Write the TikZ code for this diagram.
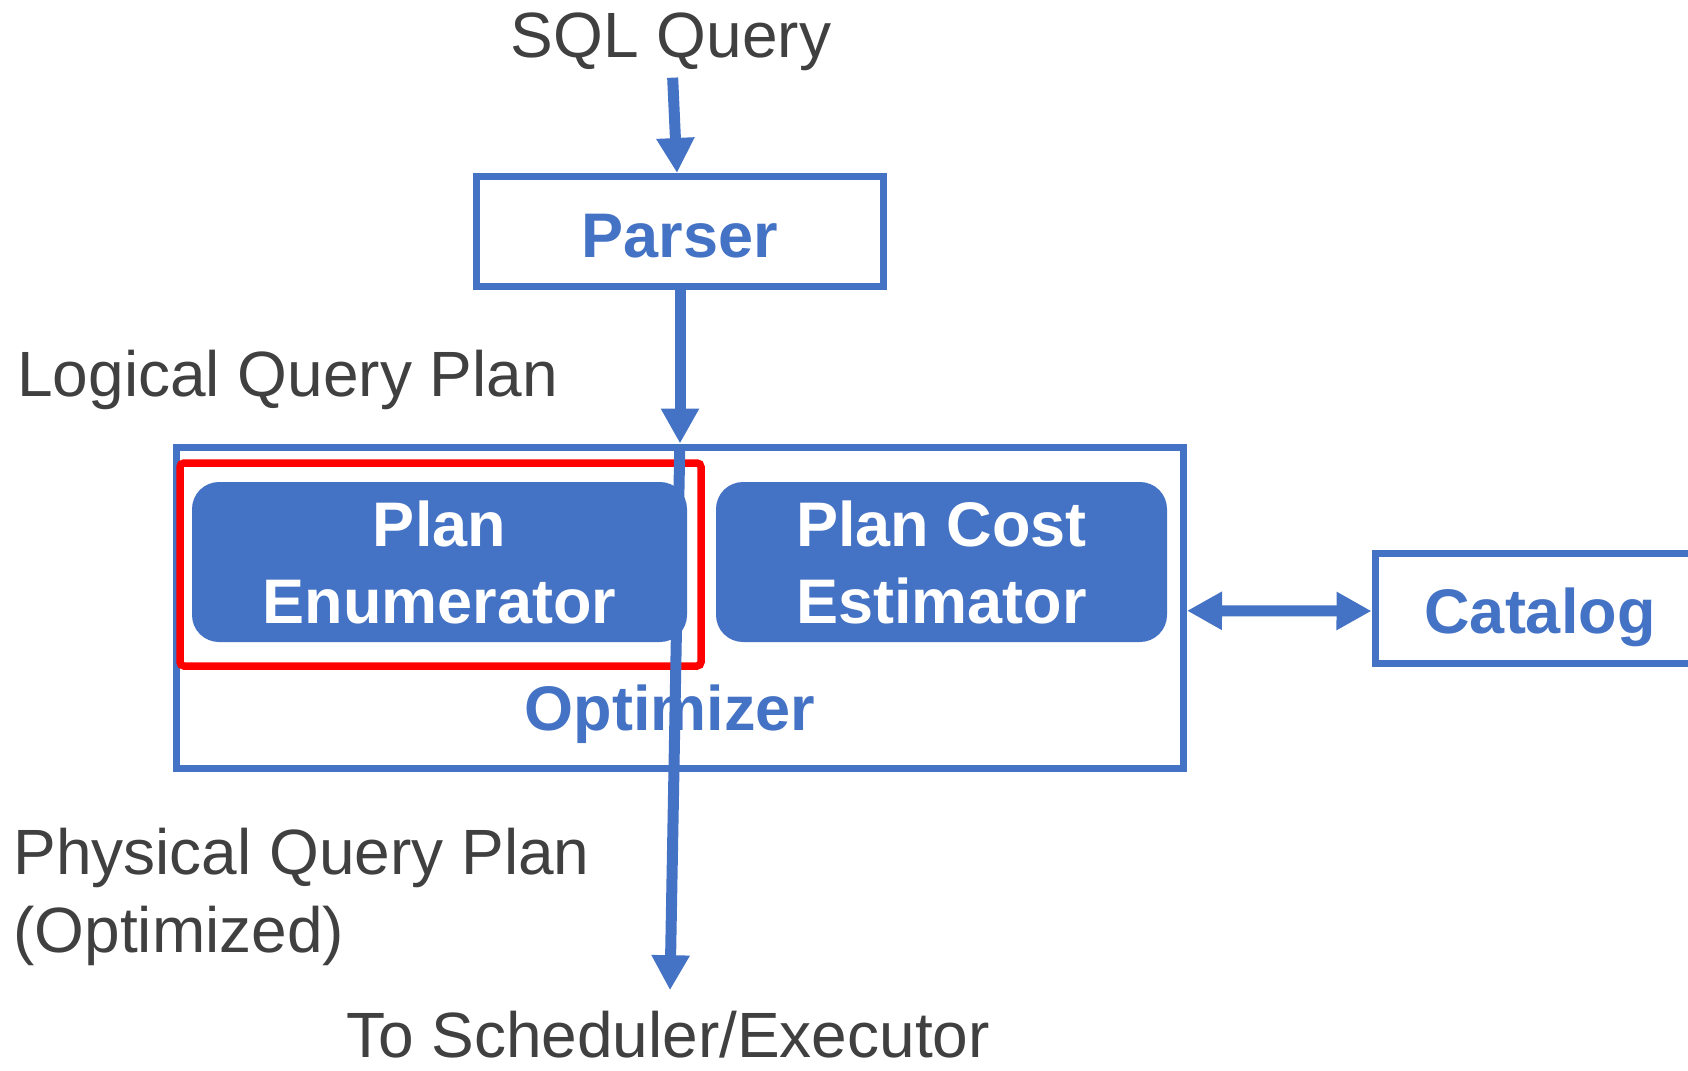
\documentclass[tikz,border=0pt]{standalone}
\usepackage{fontspec}
\setmainfont{Liberation Sans}
\usetikzlibrary{arrows.meta}
\definecolor{acc}{HTML}{4472C4}
\definecolor{ink}{HTML}{404040}
\definecolor{hl}{HTML}{FF0000}
\begin{document}
\begin{tikzpicture}[x=0.5pt,y=-0.5pt,
  >={Triangle[width=18pt,length=17.5pt]},
  plain/.style={text=ink, inner sep=0pt, font=\fontsize{32}{39}\selectfont},
  frame/.style={draw=acc, line width=3.5pt, fill=white, text=acc, inner sep=0pt,
    font=\bfseries\fontsize{31.5}{38.5}\selectfont},
  module/.style={fill=acc, rounded corners=13.5pt, text=white, align=center, inner sep=0pt,
    minimum height=80pt, font=\bfseries\fontsize{31.5}{38.5}\selectfont},
  flow/.style={draw=acc, line width=5.5pt, ->},
  biflow/.style={draw=acc, line width=5.5pt, <->}]
\useasboundingbox (0,0) rectangle (1688,1071);
\clip (0,0) rectangle (1688,1071);

% input and parser
\node[plain, anchor=base] (sql) at (671,57) {SQL Query};
\node[frame, text height=26pt, text depth=0pt, minimum width=203.5pt, minimum height=55pt]
  (parser) at (680,231.5) {Parser};
\node[plain, anchor=base west] (lqp) at (17,396) {Logical Query Plan};

% optimizer with its two modules
\node[frame, minimum width=503.75pt, minimum height=160.75pt] (opt) at (679.75,607.75) {};
\node[module, minimum width=247.5pt] (enum) at (439.5,562) {Plan\\Enumerator};
\node[module, minimum width=225.5pt] (cost) at (941.5,562) {Plan Cost\\Estimator};
\node[draw=hl, line width=3.75pt, rounded corners=2pt, minimum width=260.5pt,
  minimum height=101.5pt] (focus) at (440.5,564.5) {};
\node[text=acc, inner sep=0pt, anchor=base, font=\bfseries\fontsize{31.5}{38.5}\selectfont]
  (optlabel) at (670,730) {Optimizer};

% catalog
\node[frame, text height=25pt, text depth=0pt, minimum width=165pt, minimum height=55pt]
  (cat) at (1540,608) {Catalog};

% outputs
\node[plain, anchor=base west, align=left] (phys) at (13,952) {Physical Query Plan\\(Optimized)};
\node[plain, anchor=base] (exec) at (668,1057) {To Scheduler/Executor};

% connectors
\draw[flow, shorten <=3.5pt] (sql) -- ([xshift=-1.5pt]parser.north);
\draw[flow] (parser.south) -- (parser.south |- opt.north);
\draw[flow] ([yshift=-1.75pt]opt.north) -- ([xshift=1pt,yshift=10pt]exec.north);
\draw[biflow] ([yshift=-1.5pt]opt.east) -- ([yshift=-1.5pt]cat.west);
\end{tikzpicture}
\end{document}
